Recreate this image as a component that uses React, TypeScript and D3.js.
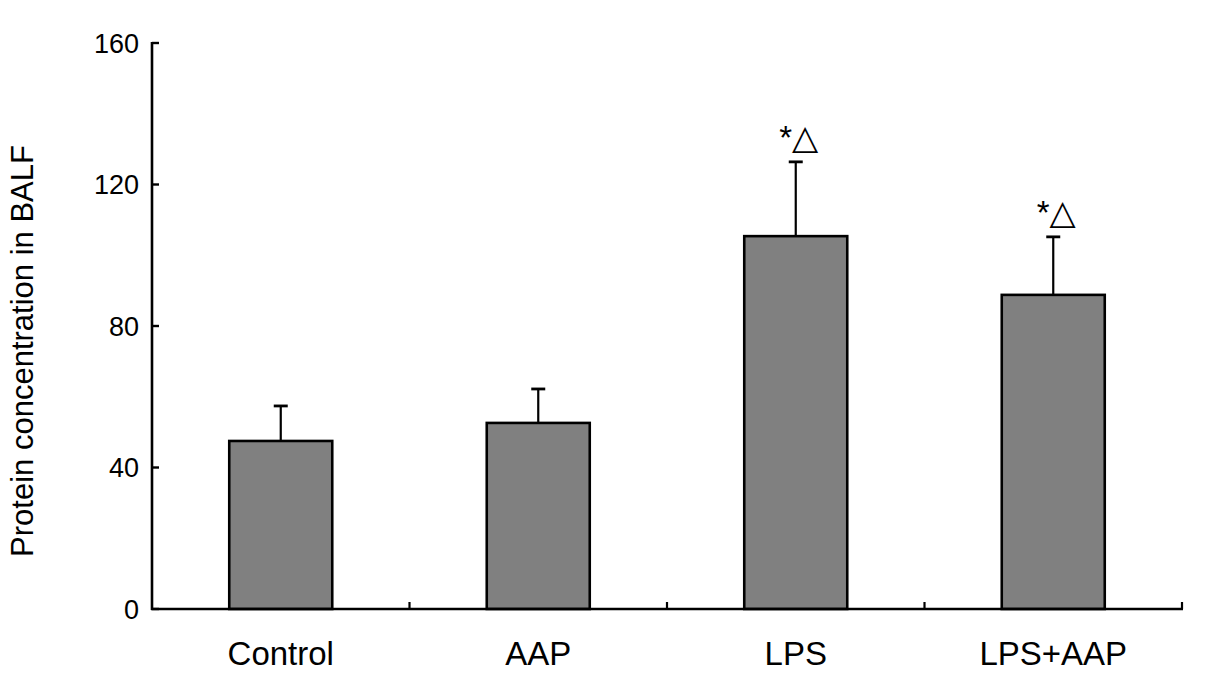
import React from "react";
import * as d3 from "d3";

const categories = ["Control", "AAP", "LPS", "LPS+AAP"];
const means = [47.5, 52.6, 105.4, 88.8];
const errors = [9.9, 9.6, 21.0, 16.4];
const markers = ["", "", "*△", "*△"];
const yTicks = [0, 40, 80, 120, 160];
const yLabel = "Protein concentration in BALF";

const W = 1205;
const H = 677;
const left = 152;
const right = 1182;
const top = 43;
const bottom = 609;

export default function App() {
  const x = d3.scaleBand<string>().domain(categories).range([left, right]).paddingInner(0).paddingOuter(0);
  const y = d3.scaleLinear().domain([0, 160]).range([bottom, top]);
  const bw = x.bandwidth() * 0.4;
  const font = "'Liberation Sans', Arial, sans-serif";
  return (
    <svg width={W} height={H} style={{ position: "absolute", left: 0, top: 0, background: "#fff" }}>
      <rect width={W} height={H} fill="#fff" />
      {categories.map((c, i) => {
        const cx = (x(c) as number) + x.bandwidth() / 2;
        const yTop = y(means[i]);
        const yErr = y(means[i] + errors[i]);
        return (
          <g key={c}>
            <line x1={cx} x2={cx} y1={yTop} y2={yErr} stroke="#000" strokeWidth={2.2} />
            <line x1={cx - 7} x2={cx + 7} y1={yErr} y2={yErr} stroke="#000" strokeWidth={2.8} />
            <rect x={cx - bw / 2} y={yTop} width={bw} height={bottom - yTop} fill="#808080" stroke="#000" strokeWidth={2.6} />
            {markers[i] && (
              <text x={cx + 3} y={yErr - 13} textAnchor="middle" fontFamily={font} fontSize={33} fill="#000">
                <tspan>{markers[i][0]}</tspan>
                <tspan fontFamily="'DejaVu Sans', sans-serif" fontSize={34}>{markers[i].slice(1)}</tspan>
              </text>
            )}
            <text x={cx} y={665} textAnchor="middle" fontFamily={font} fontSize={33} fill="#000">{c}</text>
          </g>
        );
      })}
      {/* axes */}
      <line x1={left} x2={left} y1={top - 1} y2={bottom + 1} stroke="#000" strokeWidth={2.6} />
      <line x1={left - 1} x2={right + 1} y1={bottom} y2={bottom} stroke="#000" strokeWidth={2.6} />
      {yTicks.map((t) => (
        <g key={t}>
          <line x1={left} x2={left + 7} y1={y(t)} y2={y(t)} stroke="#000" strokeWidth={2.4} />
          <text x={139} y={y(t)} dy="0.36em" textAnchor="end" fontFamily={font} fontSize={27} fill="#000">{t}</text>
        </g>
      ))}
      {categories.map((c) => {
        const xe = (x(c) as number) + x.bandwidth();
        return <line key={c} x1={xe} x2={xe} y1={bottom} y2={bottom - 7} stroke="#000" strokeWidth={2.2} />;
      })}
      <text
        transform={`translate(33, 351) rotate(-90)`}
        textAnchor="middle"
        fontFamily={font}
        fontSize={31}
        fill="#000"
      >
        {yLabel}
      </text>
    </svg>
  );
}
